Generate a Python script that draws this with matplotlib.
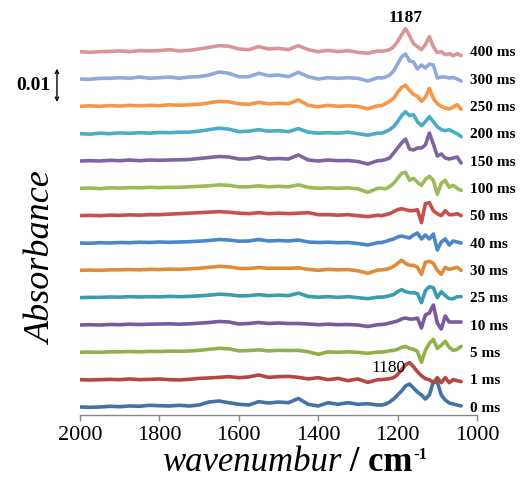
import matplotlib
matplotlib.use("Agg")
import matplotlib.pyplot as plt
import numpy as np

# ---------------- data ----------------
wavenumber = [2000, 1975, 1950, 1925, 1900, 1875, 1850, 1825, 1800, 1775, 1750,
              1725, 1700, 1675, 1650, 1625, 1600, 1575, 1550, 1525, 1500, 1475,
              1450, 1425, 1400, 1375, 1350, 1325, 1300, 1275, 1250,
              1240, 1230, 1220, 1210, 1200, 1190, 1180, 1170, 1160, 1150, 1140,
              1130, 1120, 1110, 1100, 1090, 1080, 1070, 1060, 1050, 1040]

delays = ["0 ms", "1 ms", "5 ms", "10 ms", "25 ms", "30 ms", "40 ms", "50 ms",
          "100 ms", "150 ms", "200 ms", "250 ms", "300 ms", "400 ms"]

# difference absorbance, in units of 3e-4
dA_0 = [0, -0.3, 0, 0.7, 0.3, 1, 0.7, 1.7, 1.3, 1, 1.7, 1, 2, 5, 6, 4.3, 2.7, 2, 5.3, 4, 5, 4.3, 8.5, 2.7, 1, 4.3, 2.7, 4.3, 2.7, 3.3, 2,
        2, 3, 5, 8, 12, 16, 21, 23, 19, 15, 12, 8, 12, 25, 25, 12, 7, 4, 3, 2, 1]
dA_1 = [0, -0.3, 0, 0.3, 0, 0.7, 0, 0.3, 0.7, 0, -0.3, 0.3, 1.3, 1.7, 2.3, 3, 2, 2.7, 4.7, 2.3, 3, 3.3, 2.3, 0.7, 2, 0, 1.3, -1, 0.7, -2.7, 0,
        0, 0.5, 1, 2, 5, 10, 15, 17, 13, 8, 4, 1, 0, -3, 2, -3, 2, -3, 0, -1, -2]
dA_5 = [0, 0.3, 0, 0.5, 0.5, 0.8, 0.5, 1, 0.8, 1.2, 1, 1.3, 2, 3, 4, 3.5, 1.5, 1.8, 2.5, 1.5, 2, 1.8, 2, 0.5, -2, 0.5, 0, 0.5, 0, -1, 0.3,
        0.3, 0.7, 1.5, 2, 3, 5, 6, 4, 3, 1, -10, 2, 9, 13, 4, 7, 11, 5, 2, 3, 6]
dA_10 = [0, 0.3, 0, 0.5, 0.3, 0.8, 0.5, 0.8, 1, 1.2, 0.8, 1.2, 1.8, 2.5, 3.5, 3, 1, 1.5, 2.5, 1.5, 2, 1.5, 1.5, 1, 0.3, 0.8, 0.3, 0.5, 0, -1.5, 0.3,
         0.5, 1, 2, 3, 4, 6, 7, 6, 6, 7, -3, 10, 12, 20, 2, -4, 9, 3, 3, 3, 3]
dA_25 = [0, 0.3, 0.3, 0.7, 0.5, 1, 0.7, 1, 0.8, 1.3, 1, 1.3, 1.8, 2.5, 3.5, 3, 1.8, 2, 3, 2, 2.5, 2, 4.5, 1.2, 0.5, 1, 0.3, 1, 0, -1, 0.5,
         0.5, 1, 2, 3, 6, 8, 6, 5, 5, 4, -5, 7, 11, 10, 0, 6, 2, -1, -1, 1, 1]
dA_30 = [0, 0.3, 0, 0.5, 0.5, 0.8, 0.5, 1, 0.8, 1.2, 1, 1.5, 2, 3, 4, 3.5, 2, 1.8, 2.8, 2, 2.2, 2, 2.5, 1, 0, 1, 0.5, 0.8, -0.5, -3, 0.3,
         0.5, 1, 2, 4, 7, 10, 7, 5, 5, 3, -4, 8, 9, 7, 0, -4, 3, 1, 2, 3, 0]
dA_40 = [0, -0.3, 0.3, 0, 0.5, 0.3, 0.8, 0.5, 1, 0.7, 1, 1.3, 1.8, 2.5, 3.5, 3, 1.8, 2, 3.5, 2, 2.5, 2, 3, 1, 0.5, 0.8, 0.3, 0.5, -0.5, -2, 0.3,
         0.5, 1.5, 3, 4, 6, 7, 6, 5, 8, 10, 4, 8, 4, 9, -7, 1, 4, -2, 2, 1, 0]
dA_50 = [0, 0.3, 0, 0.5, 0.3, 0.8, 0.5, 1, 1, 1.5, 2, 2.5, 3, 3.5, 4, 3.5, 2.5, 2, 3, 2, 2.5, 2, 2.5, 3, 1, 1, 0.5, 1, 0, -1, 0.5,
         0, 1, 2, 4, 6, 7, 6, 5, 5, 6, -7, 12, 13, 5, 2, 0, 5, 1, 1, 2, 0]
dA_100 = [0, 0.3, -0.3, 0.5, 0.3, 0.7, 0.5, 1, 0.7, 1, 1, 1.5, 2, 2.5, 3.5, 3, 1.5, 1.5, 2.5, 1.5, 2, 1.5, 3.5, 1, 0, 0.5, 0, 0.5, -0.5, -4, 0,
          0, -0.5, 1.7, 5, 10, 15, 16, 8, 10, 6, 3, 9, 12, 8, -6, 5, 8, 1, 3, 0, -2]
dA_150 = [0, 0.3, 0, 0.7, 0.3, 1, 0.3, 1, 0.7, 1, 1.2, 1.5, 2.5, 3.5, 4.5, 4, 2, 2, 4, 2, 2.5, 2, 6, 1, 0, 1, 0.3, 0.5, -0.5, -3, 0.3,
          0.5, 1.5, 3, 8, 13, 18, 22, 12, 11, 13, 13, 16, 28, 17, 5, 7, 3, 2, 3, 4, -2]
dA_200 = [0, -0.5, 0.5, 0, 0.8, 0.3, 1, 0.5, 1.2, 1, 1.5, 1.5, 2.5, 4, 5.5, 4.5, 2, 2.5, 4, 2.5, 3, 2, 5, 1.5, 0.5, 1, 0.5, 1.5, 0, -1.5, 0.5,
          0.5, 2, 4, 7, 12, 18, 22, 18, 19, 12, 8, 12, 17, 12, 7, 4, 3, 4, 2, 0, -3]
dA_250 = [0, 0.5, 0, 0.7, 0.3, 1, 0.5, 1, 0.7, 1.5, 1, 1.5, 2, 3.5, 5, 4.5, 2.5, 2, 4, 2.5, 3, 2.5, 6.5, 1, -0.5, 1, 0, 0.5, 0, -2.5, 0.5,
          0.7, 2.7, 5, 8, 14, 19, 21, 16, 12, 10, 5, 9, 18, 8, 2.7, 0, -1.7, -2.7, -0.7, 1.7, -3]
dA_300 = [0, -0.3, 0.7, 0.7, 1.3, 0.7, 2, 0.7, 1.3, 2, 0.7, 2, 2.3, 4, 7, 5.7, 2.3, 2.3, 5.7, 3.3, 4, 2.3, 6.7, 2.3, 0, 1.3, 0.7, 1.3, 0.7, -2, 1.3,
          1, 2, 4, 8, 15, 22, 25, 18, 17, 10, 14, 11, 15, 14, 1, 2, 2, 1, 1.5, 0, -2]
dA_400 = [0, -0.7, 0, 0.3, 0.7, 0, 1, 0.7, 1, 2, 0.7, 1.3, 2.7, 4.3, 6, 5.5, 2.7, 2, 5, 2.7, 3.3, 2, 6, 2, 0, 1.3, 0, 1, -0.7, -1.5, 0.7,
          0.5, 1, 2, 5, 10, 17, 23, 16, 8, 5, 2, 7, 15, 5, -1, 0, -3, -2, -4, -2, -4]

series = [dA_0, dA_1, dA_5, dA_10, dA_25, dA_30, dA_40, dA_50,
          dA_100, dA_150, dA_200, dA_250, dA_300, dA_400]

UNIT = 3e-4          # absorbance per listed unit
OFFSET_STEP = 0.0082 # vertical stacking offset

colors = ["#4472a8", "#b5473f", "#8fb04a", "#7a5a9e", "#3a9cb0", "#e08a3a",
          "#4a86c8", "#c84f4a", "#9bbb59", "#8064a2", "#4bacc6", "#f79646",
          "#8eaadb", "#d99694"]

SERIF = "Liberation Serif"

# ---------------- figure ----------------
fig = plt.figure(figsize=(5.26, 4.83), dpi=100)
ax = fig.add_axes([80 / 526, 68 / 483, 397 / 526, 400 / 483])

x = np.array(wavenumber, dtype=float)
for i, (lab, y, c) in enumerate(zip(delays, series, colors)):
    off = i * OFFSET_STEP
    ax.plot(x, np.array(y) * UNIT + off, color=c, lw=2.6, solid_joinstyle="round",
            solid_capstyle="round")
    ax.text(1018, off - 0.0004, lab, ha="left", va="center", fontsize=11,
            fontweight="bold", family=SERIF, clip_on=False)

ax.set_xlim(2000, 1000)
ax.set_ylim(-0.0024, -0.0024 + 400 * 3e-4)
ax.set_xticks([2000, 1800, 1600, 1400, 1200, 1000])
ax.tick_params(axis="x", direction="out", length=4, width=1, color="#888888",
               labelsize=16, pad=4)
for t in ax.get_xticklabels():
    t.set_family(SERIF)
ax.set_yticks([])
for s in ["left", "top", "right"]:
    ax.spines[s].set_visible(False)
ax.spines["bottom"].set_color("#888888")
ax.spines["bottom"].set_linewidth(1)

# peak annotations
ax.text(1179, 0.1168, "1187", ha="center", va="center", fontsize=12.5,
        fontweight="bold", family=SERIF, clip_on=False)
ax.text(1222, 0.0118, "1180", ha="center", va="center", fontsize=12.5,
        family=SERIF, clip_on=False)

# scale bar 0.01
ax.annotate("", xy=(-0.058, 0.0915), xytext=(-0.058, 0.1015),
            xycoords=("axes fraction", "data"), textcoords=("axes fraction", "data"),
            arrowprops=dict(arrowstyle="<->", lw=1, color="black",
                            shrinkA=0, shrinkB=0, mutation_scale=6),
            annotation_clip=False)
fig.text(50 / 526, 1 - 86 / 483, "0.01", ha="right", va="center", fontsize=14,
         fontweight="bold", family=SERIF)

# axis titles
fig.text(42 / 526, 1 - 258 / 483, "Absorbance", rotation=90, ha="center",
         va="center", fontsize=26, style="italic", family=SERIF)

renderer = fig.canvas.get_renderer()
base_y = 1 - 471 / 483
t1 = fig.text(162 / 526, base_y, "wavenumbur", ha="left", va="baseline",
              fontsize=25, style="italic", family=SERIF)
bb = t1.get_window_extent(renderer)
t2 = fig.text(bb.x1 / 526, base_y, " / cm", ha="left", va="baseline",
              fontsize=25, fontweight="bold", family=SERIF)
bb2 = t2.get_window_extent(renderer)
fig.text(bb2.x1 / 526 + 0.002, 1 - 459 / 483, "-1", ha="left", va="baseline",
         fontsize=12, fontweight="bold", family=SERIF)

fig.savefig("out.png", dpi=100)
